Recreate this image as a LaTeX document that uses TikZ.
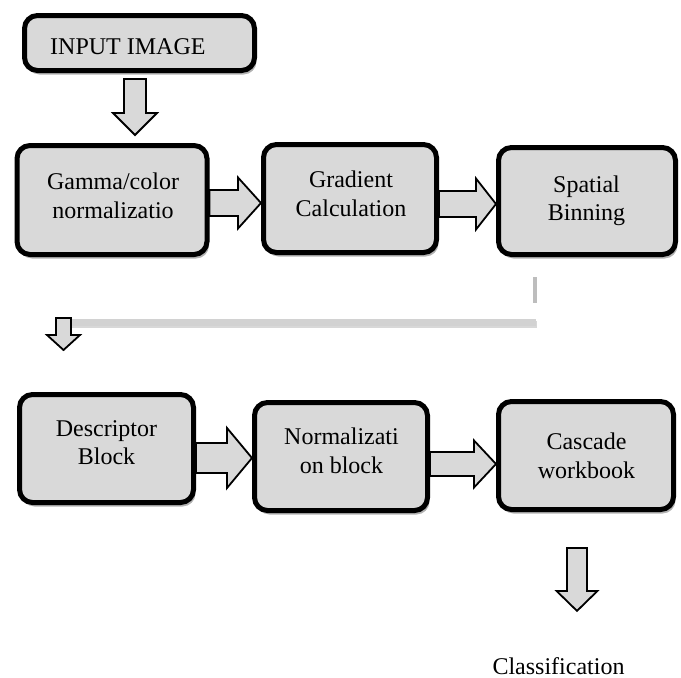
\documentclass[tikz,border=0pt]{standalone}
\usepackage{fontspec}
\setmainfont{Liberation Serif}
\usetikzlibrary{calc,shadows}
\definecolor{boxgray}{HTML}{D9D9D9}
\definecolor{linegray}{HTML}{D2D2D2}
\definecolor{vlinegray}{HTML}{BDBDBD}
\tikzset{
  box/.style={draw=black, line width=5pt, rounded corners=13pt, fill=boxgray,
    inner sep=0pt,
    drop shadow={shadow xshift=2pt, shadow yshift=-4pt, opacity=0.3, fill=black}},
  barrow/.style={draw=black, line width=1.8pt, fill=boxgray, line join=miter},
  lbl/.style={font=\fontsize{24}{28.5}\selectfont, inner sep=0pt, align=center}
}
% horizontal block arrow: from, to, y offset, shaft half, head half, head length
\newcommand{\hblock}[6]{%
  \draw[barrow] let \p1=(#1), \p2=(#2) in
    (\x1,{\y1+(#3)+(#4)}) -- ({\x2-(#6)},{\y1+(#3)+(#4)}) -- ({\x2-(#6)},{\y1+(#3)+(#5)})
    -- (\x2,{\y1+(#3)}) -- ({\x2-(#6)},{\y1+(#3)-(#5)}) -- ({\x2-(#6)},{\y1+(#3)-(#4)})
    -- (\x1,{\y1+(#3)-(#4)}) -- cycle;}
% vertical block arrow: from, to, x offset, gap start, gap end, shaft half, head half, head length
\newcommand{\vblock}[8]{%
  \draw[barrow] let \p1=(#1), \p2=(#2) in
    ({\x1+(#3)-(#6)},{\y1-(#4)}) -- ({\x1+(#3)+(#6)},{\y1-(#4)})
    -- ({\x1+(#3)+(#6)},{\y2+(#5)+(#8)}) -- ({\x1+(#3)+(#7)},{\y2+(#5)+(#8)})
    -- ({\x1+(#3)},{\y2+(#5)}) -- ({\x1+(#3)-(#7)},{\y2+(#5)+(#8)})
    -- ({\x1+(#3)-(#6)},{\y2+(#5)+(#8)}) -- cycle;}
\begin{document}
\begin{tikzpicture}[x=1pt,y=-1pt]
\fill[white] (0,0) rectangle (681,678);
\useasboundingbox (0,0) rectangle (681,678);

% boxes
\node[box, minimum width=230pt, minimum height=55pt] (inp) at (139.5,43) {};
\node[box, minimum width=190pt, minimum height=109pt] (g) at (112,200) {};
\node[box, minimum width=173pt, minimum height=108pt] (gr) at (350,198.5) {};
\node[box, minimum width=177pt, minimum height=107pt] (sp) at (587,201) {};
\node[box, minimum width=174pt, minimum height=108pt] (d) at (106.5,448.5) {};
\node[box, minimum width=173pt, minimum height=108pt] (n) at (341,456.5) {};
\node[box, minimum width=175pt, minimum height=108pt] (c) at (586,455.5) {};

% texts
\node[lbl, anchor=base west] (inp-t) at (50,54) {INPUT IMAGE};
\node[lbl] (g-t) at (113,196) {Gamma/color\\normalizatio};
\node[lbl] (gr-t) at (351,194) {Gradient\\Calculation};
\node[lbl] (sp-t) at (586.5,201) {Spatial\\Binning};
\node[lbl] (d-t) at (106.5,442.5) {Descriptor\\Block};
\node[lbl] (n-t) at (341.5,451) {Normalizati\\on block};
\node[lbl] (c-t) at (586.5,456) {Cascade\\workbook};
\node[lbl, anchor=base] (cls) at (558.5,674) {Classification};

% grey connector lines
\coordinate (vl-top) at (535,277);
\coordinate (vl-bot) at (535,303);
\coordinate (hl-start) at (70,322);
\coordinate (hl-end) at (536,322);
\draw[vlinegray, line width=4pt] (vl-top) -- (vl-bot);
\draw[gray!60, line width=7pt, opacity=0.5] ($(hl-start)+(1,2)$) -- ($(hl-end)+(1,2)$);
\draw[linegray, line width=7pt] (hl-start) -- (hl-end);

% small arrow
\coordinate (sa-top) at (63.5,318);
\coordinate (sa-tip) at (63.5,350);
\vblock{sa-top}{sa-tip}{0pt}{0pt}{0pt}{7.5pt}{16.5pt}{15pt}

% block arrows
\vblock{inp.south}{g.north}{-4.5pt}{6pt}{8pt}{11pt}{22pt}{22pt}
\hblock{g.east}{gr.west}{-3pt}{13pt}{25.5pt}{23pt}
\hblock{gr.east}{sp.west}{-5.5pt}{13pt}{25.5pt}{20pt}
\hblock{d.east}{n.west}{-9.5pt}{15pt}{30pt}{25pt}
\hblock{n.east}{c.west}{-7.5pt}{12pt}{23.5pt}{22pt}
\vblock{c.south}{cls.north}{-9pt}{36pt}{46pt}{10pt}{20.5pt}{20pt}
\end{tikzpicture}
\end{document}
